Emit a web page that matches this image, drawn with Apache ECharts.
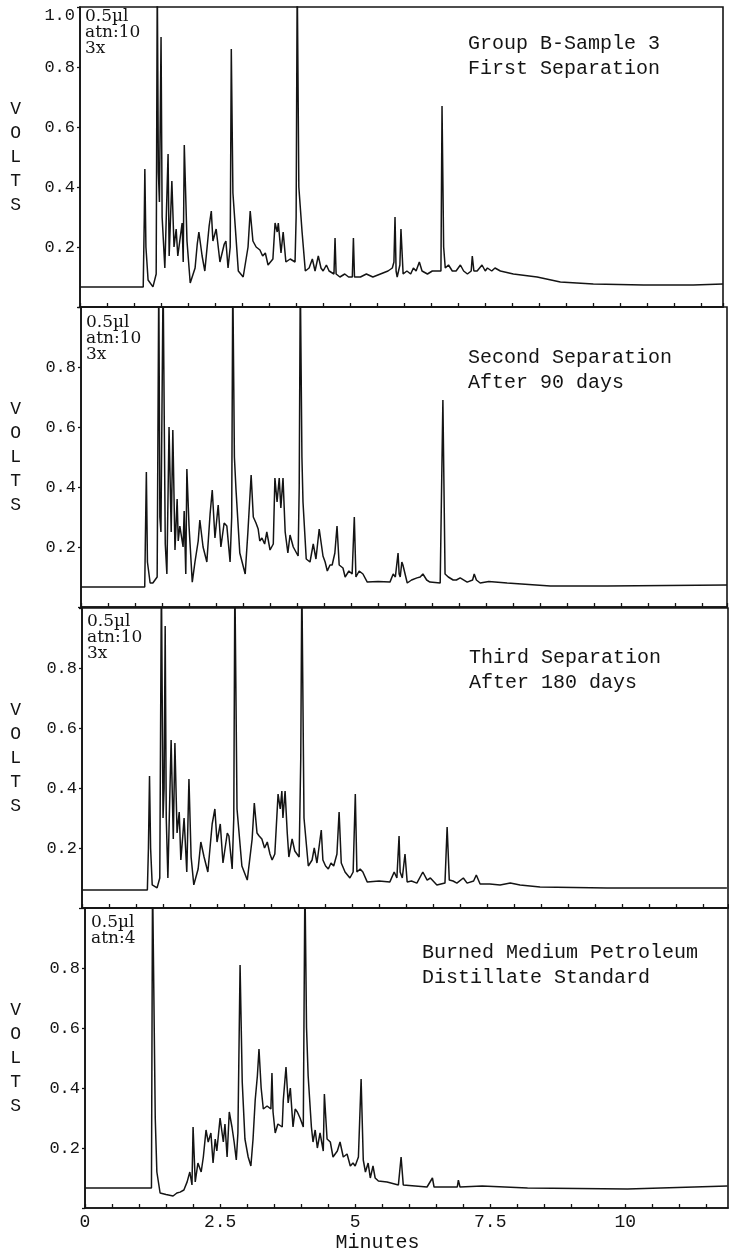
<!DOCTYPE html>
<html>
<head>
<meta charset="utf-8">
<title>Chromatograms</title>
<script src="https://cdn.jsdelivr.net/npm/echarts@6/dist/echarts.min.js"></script>
<style>
    html, body { margin: 0; padding: 0; background: #fff; }
    #chart { width: 729px; height: 1255px; }
</style>
</head>
<body>
<div id="chart"></div>
<script>
'use strict'

// [minutes, volts]
var sep1 = [
    [0, 0.067], [1.17, 0.067], [1.19, 0.3], [1.20, 0.46], [1.22, 0.2], [1.26, 0.09], [1.35, 0.067], [1.41, 0.11],
    [1.43, 1.1], [1.45, 0.45], [1.47, 0.35], [1.50, 0.9], [1.52, 0.3], [1.57, 0.13], [1.63, 0.51], [1.65, 0.17],
    [1.70, 0.42], [1.74, 0.2], [1.78, 0.26], [1.81, 0.17], [1.89, 0.28], [1.91, 0.15], [1.93, 0.54], [1.98, 0.22],
    [2.04, 0.08], [2.13, 0.13], [2.17, 0.21], [2.20, 0.25], [2.26, 0.17], [2.31, 0.12], [2.39, 0.27], [2.43, 0.32],
    [2.46, 0.22], [2.52, 0.26], [2.59, 0.15], [2.67, 0.21], [2.70, 0.22], [2.74, 0.13], [2.78, 0.2], [2.80, 0.86],
    [2.83, 0.38], [2.93, 0.12], [3.02, 0.1], [3.11, 0.2], [3.15, 0.32], [3.20, 0.22], [3.26, 0.2], [3.33, 0.19],
    [3.38, 0.17], [3.43, 0.18], [3.48, 0.14], [3.57, 0.16], [3.61, 0.28], [3.65, 0.25], [3.67, 0.28], [3.72, 0.18],
    [3.76, 0.25], [3.81, 0.15], [3.89, 0.16], [3.98, 0.15], [4.00, 0.3], [4.02, 1.1], [4.05, 0.4], [4.11, 0.25],
    [4.17, 0.12], [4.24, 0.13], [4.30, 0.16], [4.35, 0.12], [4.41, 0.17], [4.46, 0.13], [4.50, 0.12], [4.56, 0.14],
    [4.61, 0.12], [4.70, 0.11], [4.72, 0.23], [4.74, 0.11], [4.81, 0.1], [4.90, 0.11], [4.97, 0.1], [5.04, 0.1],
    [5.06, 0.23], [5.08, 0.1], [5.19, 0.1], [5.30, 0.11], [5.42, 0.1], [5.56, 0.11], [5.70, 0.12], [5.78, 0.13],
    [5.81, 0.15], [5.83, 0.3], [5.85, 0.12], [5.87, 0.1], [5.92, 0.14], [5.94, 0.26], [5.98, 0.11], [6.05, 0.12],
    [6.12, 0.11], [6.17, 0.13], [6.22, 0.12], [6.28, 0.15], [6.33, 0.12], [6.43, 0.11], [6.52, 0.12], [6.61, 0.12],
    [6.68, 0.12], [6.70, 0.67], [6.73, 0.2], [6.76, 0.13], [6.82, 0.14], [6.89, 0.12], [6.96, 0.12], [7.04, 0.14],
    [7.10, 0.12], [7.17, 0.11], [7.24, 0.12], [7.26, 0.17], [7.29, 0.12], [7.35, 0.12], [7.44, 0.14],
    [7.50, 0.12], [7.54, 0.13], [7.62, 0.12], [7.68, 0.13], [7.78, 0.12], [8.02, 0.11], [8.46, 0.1], [8.89, 0.083],
    [9.5, 0.077], [10.43, 0.073], [11.35, 0.073], [11.9, 0.077]
];

var sep2 = [
    [0, 0.067], [1.18, 0.067], [1.19, 0.2], [1.21, 0.45], [1.23, 0.15], [1.28, 0.08], [1.33, 0.08], [1.41, 0.1],
    [1.44, 1.1], [1.46, 0.3], [1.48, 0.25], [1.52, 1.1], [1.56, 0.21], [1.59, 0.11], [1.63, 0.6], [1.67, 0.25],
    [1.70, 0.59], [1.74, 0.19], [1.78, 0.36], [1.80, 0.22], [1.83, 0.27], [1.89, 0.2], [1.91, 0.32], [1.94, 0.11],
    [1.96, 0.46], [2.00, 0.27], [2.06, 0.083], [2.11, 0.15], [2.17, 0.22], [2.20, 0.29], [2.26, 0.2], [2.33, 0.15],
    [2.39, 0.31], [2.43, 0.39], [2.48, 0.23], [2.54, 0.34], [2.59, 0.2], [2.65, 0.28], [2.70, 0.27], [2.76, 0.15],
    [2.79, 0.3], [2.81, 1.1], [2.84, 0.5], [2.87, 0.39], [2.94, 0.18], [3.04, 0.11], [3.09, 0.25], [3.15, 0.44],
    [3.19, 0.3], [3.24, 0.28], [3.28, 0.26], [3.31, 0.22], [3.35, 0.23], [3.40, 0.21], [3.44, 0.25], [3.50, 0.19],
    [3.56, 0.21], [3.59, 0.43], [3.63, 0.35], [3.67, 0.43], [3.70, 0.33], [3.74, 0.43], [3.78, 0.25], [3.83, 0.18],
    [3.87, 0.24], [3.93, 0.2], [4.02, 0.17], [4.04, 0.4], [4.06, 1.1], [4.09, 0.5], [4.11, 0.35], [4.17, 0.16],
    [4.24, 0.15], [4.30, 0.21], [4.35, 0.16], [4.41, 0.26], [4.48, 0.17], [4.52, 0.15], [4.56, 0.12], [4.61, 0.14],
    [4.65, 0.14], [4.70, 0.18], [4.74, 0.27], [4.78, 0.14], [4.85, 0.13], [4.89, 0.1], [4.96, 0.12], [5.02, 0.11],
    [5.06, 0.3], [5.09, 0.1], [5.15, 0.12], [5.22, 0.11], [5.30, 0.083], [5.50, 0.085], [5.72, 0.083], [5.78, 0.11],
    [5.82, 0.1], [5.87, 0.18], [5.89, 0.11], [5.91, 0.1], [5.94, 0.15], [5.96, 0.14], [6.04, 0.08], [6.12, 0.09],
    [6.22, 0.097], [6.28, 0.1], [6.33, 0.11], [6.40, 0.09], [6.46, 0.083], [6.65, 0.08], [6.70, 0.69], [6.74, 0.11],
    [6.80, 0.1], [6.89, 0.09], [6.95, 0.09], [7.02, 0.097], [7.15, 0.083], [7.25, 0.09], [7.28, 0.11],
    [7.32, 0.09], [7.39, 0.08], [7.55, 0.085], [7.89, 0.08], [8.69, 0.07], [9.74, 0.07], [11.96, 0.073]
];

var sep3 = [
    [0, 0.06], [1.21, 0.06], [1.23, 0.2], [1.25, 0.44], [1.27, 0.2], [1.30, 0.077], [1.39, 0.067], [1.44, 0.1],
    [1.47, 1.1], [1.50, 0.3], [1.52, 0.4], [1.54, 0.94], [1.56, 0.3], [1.59, 0.1], [1.65, 0.56], [1.69, 0.23],
    [1.72, 0.55], [1.76, 0.25], [1.80, 0.32], [1.83, 0.16], [1.87, 0.25], [1.89, 0.3], [1.94, 0.12], [1.98, 0.43],
    [2.02, 0.17], [2.07, 0.077], [2.15, 0.13], [2.20, 0.22], [2.26, 0.17], [2.33, 0.12], [2.41, 0.28], [2.46, 0.33],
    [2.50, 0.22], [2.56, 0.28], [2.61, 0.15], [2.69, 0.25], [2.72, 0.24], [2.78, 0.13], [2.81, 0.3], [2.83, 1.1],
    [2.87, 0.33], [2.96, 0.14], [3.06, 0.093], [3.15, 0.23], [3.19, 0.35], [3.24, 0.25], [3.28, 0.24], [3.33, 0.23],
    [3.38, 0.2], [3.43, 0.22], [3.48, 0.18], [3.52, 0.16], [3.57, 0.18], [3.63, 0.38], [3.67, 0.33], [3.70, 0.39],
    [3.72, 0.3], [3.76, 0.39], [3.80, 0.25], [3.83, 0.17], [3.89, 0.23], [3.94, 0.19], [4.02, 0.17], [4.05, 0.5],
    [4.07, 1.1], [4.11, 0.3], [4.19, 0.14], [4.26, 0.16], [4.30, 0.2], [4.35, 0.15], [4.43, 0.26], [4.46, 0.16],
    [4.51, 0.14], [4.56, 0.13], [4.61, 0.15], [4.66, 0.14], [4.72, 0.18], [4.76, 0.32], [4.80, 0.15], [4.87, 0.12],
    [4.96, 0.1], [5.02, 0.12], [5.06, 0.38], [5.09, 0.12], [5.15, 0.13], [5.20, 0.12], [5.28, 0.087], [5.50, 0.09],
    [5.70, 0.087], [5.78, 0.12], [5.83, 0.1], [5.87, 0.24], [5.89, 0.12], [5.93, 0.1], [5.98, 0.18], [6.02, 0.087],
    [6.10, 0.09], [6.20, 0.083], [6.31, 0.12], [6.39, 0.093], [6.45, 0.1], [6.57, 0.077], [6.72, 0.083], [6.76, 0.27],
    [6.80, 0.093], [6.87, 0.09], [6.94, 0.083], [7.06, 0.1], [7.13, 0.083], [7.25, 0.09], [7.30, 0.11],
    [7.37, 0.08], [7.55, 0.08], [7.74, 0.077], [7.93, 0.083], [8.11, 0.077], [8.48, 0.07], [9.72, 0.067],
    [11.94, 0.067]
];

var standard = [
    [0, 0.067], [1.23, 0.067], [1.25, 1.1], [1.28, 1.1], [1.30, 0.3], [1.33, 0.12], [1.39, 0.05], [1.50, 0.045],
    [1.63, 0.04], [1.70, 0.05], [1.76, 0.053], [1.83, 0.06], [1.89, 0.087], [1.94, 0.12], [1.98, 0.077], [2.00, 0.27],
    [2.04, 0.087], [2.09, 0.15], [2.15, 0.12], [2.19, 0.17], [2.24, 0.26], [2.28, 0.22], [2.33, 0.25], [2.37, 0.15],
    [2.41, 0.23], [2.44, 0.19], [2.50, 0.3], [2.56, 0.22], [2.59, 0.28], [2.63, 0.17], [2.67, 0.32], [2.72, 0.27],
    [2.76, 0.22], [2.80, 0.16], [2.83, 0.25], [2.87, 0.81], [2.91, 0.42], [2.96, 0.23], [3.02, 0.17], [3.07, 0.14],
    [3.11, 0.23], [3.15, 0.36], [3.19, 0.44], [3.22, 0.53], [3.26, 0.4], [3.30, 0.33], [3.37, 0.34], [3.44, 0.33],
    [3.46, 0.45], [3.48, 0.32], [3.52, 0.25], [3.57, 0.28], [3.65, 0.27], [3.67, 0.36], [3.72, 0.47], [3.76, 0.35],
    [3.80, 0.4], [3.85, 0.27], [3.89, 0.33], [3.93, 0.32], [3.98, 0.3], [4.04, 0.27], [4.07, 1.1], [4.10, 0.6],
    [4.13, 0.44], [4.19, 0.27], [4.22, 0.22], [4.26, 0.26], [4.30, 0.2], [4.35, 0.25], [4.41, 0.19], [4.43, 0.38],
    [4.48, 0.23], [4.54, 0.22], [4.59, 0.17], [4.63, 0.18], [4.67, 0.19], [4.72, 0.22], [4.78, 0.17], [4.85, 0.18],
    [4.91, 0.14], [4.96, 0.15], [5.00, 0.14], [5.06, 0.17], [5.11, 0.43], [5.15, 0.16], [5.19, 0.12], [5.24, 0.15],
    [5.28, 0.1], [5.33, 0.14], [5.37, 0.1], [5.43, 0.09], [5.59, 0.087], [5.80, 0.077], [5.85, 0.17], [5.89, 0.077],
    [6.33, 0.07], [6.43, 0.1], [6.46, 0.07], [6.89, 0.07], [6.91, 0.093], [6.94, 0.07], [7.35, 0.073],
    [8.19, 0.067], [10.04, 0.063], [11.89, 0.073]
];

var traces = [sep1, sep2, sep3, standard];
var captions = [
    "Group B-Sample 3\nFirst Separation",
    "Second Separation\nAfter 90 days",
    "Third Separation\nAfter 180 days",
    "Burned Medium Petroleum\nDistillate Standard"
];
var notes = ["0.5µl\natn:10\n3x", "0.5µl\natn:10\n3x", "0.5µl\natn:10\n3x", "0.5µl\natn:4"];
var xLabels = [0, 2.5, 5, 7.5, 10];

// panel boxes, as measured on the scan
var panels = [
    {left: 80, top: 7, width: 643, xMax: 11.9, capLeft: 468, capTop: 31, noteLeft: 85, noteTop: 9, voltsPad: 0},
    {left: 81, top: 307, width: 646, xMax: 11.96, capLeft: 468, capTop: 345, noteLeft: 86, noteTop: 315, voltsPad: 20},
    {left: 82, top: 608, width: 646, xMax: 11.96, capLeft: 469, capTop: 645, noteLeft: 87, noteTop: 614, voltsPad: 26},
    {left: 85, top: 908, width: 643, xMax: 11.9, capLeft: 422, capTop: 940, noteLeft: 91, noteTop: 915, voltsPad: 6}
];

var ink = "#141414";
var mono = "Liberation Mono";

var grids = [], xAxes = [], yAxes = [], series = [], titles = [];

for (var i = 0; i < panels.length; i++) {
    var p = panels[i];
    var last = i === panels.length - 1;

    grids.push({
        left: p.left, top: p.top, width: p.width, height: 300,
        show: true, borderColor: ink, borderWidth: 1.6, backgroundColor: "transparent",
        outerBoundsMode: "none"
    });

    xAxes.push({
        type: "value", gridIndex: i, min: 0, max: p.xMax, interval: 0.5,
        axisLine: {onZero: false, lineStyle: {color: ink, width: 1.6}},
        axisTick: {show: true, inside: true, length: 4, lineStyle: {color: ink, width: 1.3}},
        splitLine: {show: false},
        axisLabel: {
            show: last, color: ink, fontFamily: mono, fontSize: 18, margin: 5,
            showMaxLabel: false,
            formatter: function (v) {
                for (var k = 0; k < xLabels.length; k++) {
                    if (Math.abs(v - xLabels[k]) < 1e-6) return String(xLabels[k]);
                }
                return "";
            }
        },
        name: last ? "Minutes" : "",
        nameLocation: "middle", nameGap: 25,
        nameTextStyle: {color: ink, fontFamily: mono, fontSize: 20, padding: [0, 58, 0, 0]}
    });

    yAxes.push({
        type: "value", gridIndex: i, min: 0, max: 1, interval: 0.2,
        axisLine: {onZero: false, lineStyle: {color: ink, width: 1.6}},
        axisTick: {show: true, length: 3, lineStyle: {color: ink, width: 1.3}},
        splitLine: {show: false},
        axisLabel: {
            color: ink, fontFamily: mono, fontSize: 17, margin: 5,
            formatter: (function (first) {
                return function (v) {
                    if (v === 0) return "";
                    if (v === 1) return first ? "{top|1.0}" : "";
                    return v.toFixed(1);
                };
            })(i === 0),
            rich: {top: {fontFamily: mono, fontSize: 17, color: ink, padding: [16, 0, 0, 0]}}
        },
        name: "V\nO\nL\nT\nS",
        nameLocation: "middle", nameRotate: 0, nameGap: p.left - 21,
        nameTextStyle: {color: ink, fontFamily: mono, fontSize: 18, lineHeight: 24, padding: [0, 0, p.voltsPad, 0]}
    });

    series.push({
        type: "line", xAxisIndex: i, yAxisIndex: i, data: traces[i],
        showSymbol: false, symbol: "none", clip: true, silent: true,
        lineStyle: {color: ink, width: 1.5}
    });

    titles.push({
        text: captions[i], left: p.capLeft, top: p.capTop, padding: 0,
        textStyle: {color: ink, fontFamily: mono, fontSize: 20, fontWeight: "normal", lineHeight: 25}
    });
    titles.push({
        text: notes[i], left: p.noteLeft, top: p.noteTop, padding: 0,
        textStyle: {color: ink, fontFamily: "DejaVu Serif", fontSize: 17, fontWeight: "normal", lineHeight: 16}
    });
}

var chart = echarts.init(document.getElementById("chart"), null, {renderer: "canvas"});
chart.setOption({
    animation: false,
    backgroundColor: "#fff",
    title: titles,
    grid: grids,
    xAxis: xAxes,
    yAxis: yAxes,
    series: series
});
</script>
</body>
</html>
